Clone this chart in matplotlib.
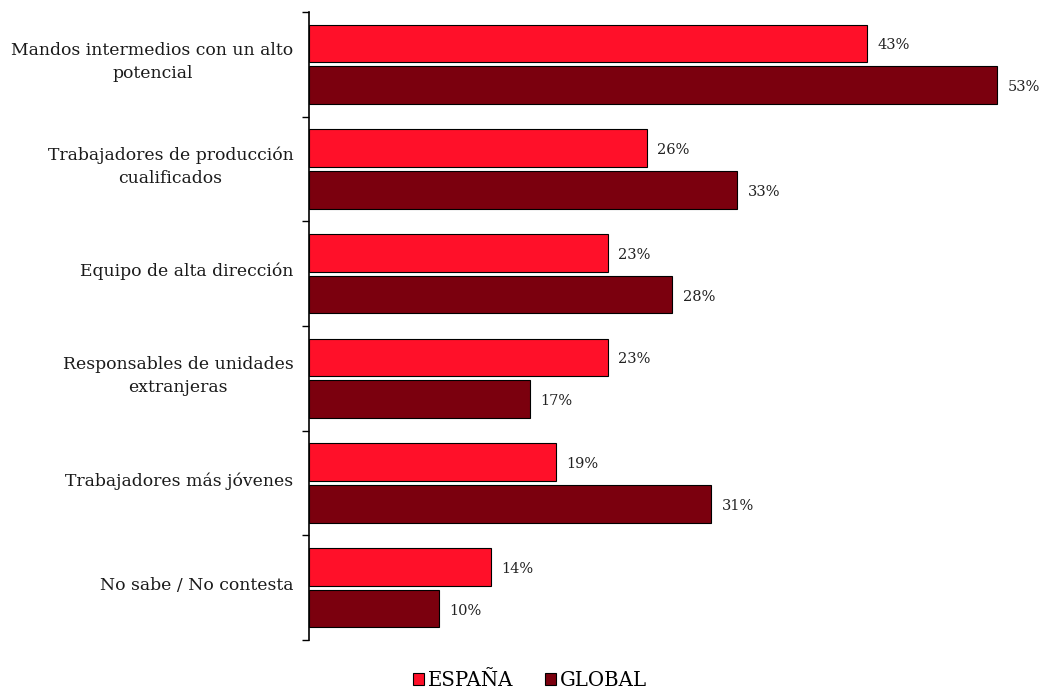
import numpy as np
import matplotlib
matplotlib.use("Agg")
import matplotlib.pyplot as plt

categories = [
    "Mandos intermedios con un alto\npotencial",
    "Trabajadores de producción\ncualificados",
    "Equipo de alta dirección",
    "Responsables de unidades\nextranjeras",
    "Trabajadores más jóvenes",
    "No sabe / No contesta",
]
espana = [43, 26, 23, 23, 19, 14]
global_ = [53, 33, 28, 17, 31, 10]
series_names = ["ESPAÑA", "GLOBAL"]
colors = ["#FF1029", "#7B000E"]

plt.rcParams["font.family"] = ["DejaVu Serif"]

fig = plt.figure(figsize=(10.41, 6.90), dpi=100)
ax = fig.add_axes([309 / 1041, 1 - 640 / 690, (1023 - 309) / 1041, 628 / 690])

n = len(categories)
centers = np.arange(n)[::-1] + 0.5
h = 0.36
off = 0.2

for vals, name, col, d in [(espana, series_names[0], colors[0], -off),
                           (global_, series_names[1], colors[1], off)]:
    ys = centers - d
    ax.barh(ys, vals, height=h, color=col, edgecolor="black",
            linewidth=0.8, label=name)
    for y, v in zip(ys, vals):
        ax.text(v + 0.8, y - 0.02, f"{v}%", va="center", ha="left",
                fontsize=10.5, color="#222222")

ax.set_xlim(0, 55)
ax.set_ylim(0, n)
ax.set_yticks(np.arange(n + 1))
ax.set_yticklabels([])
ax.tick_params(axis="y", direction="out", length=5, width=1)
ax.set_xticks([])
for s in ["top", "right", "bottom"]:
    ax.spines[s].set_visible(False)
ax.spines["left"].set_linewidth(1.2)

# category names, centred on each group, right of them the axis
for y, lab in zip(centers, categories):
    ax.text(-1.2, y + 0.02, lab, ha="right", va="center",
            multialignment="center", fontsize=12.4, linespacing=1.45,
            color="#1a1a1a")

fig.legend(loc="lower center", bbox_to_anchor=(0.509, -0.026), ncol=2,
           frameon=False, fontsize=14.2, handlelength=0.56, handleheight=0.56,
           handletextpad=0.2, columnspacing=1.6)

fig.savefig("out.png", dpi=100)
